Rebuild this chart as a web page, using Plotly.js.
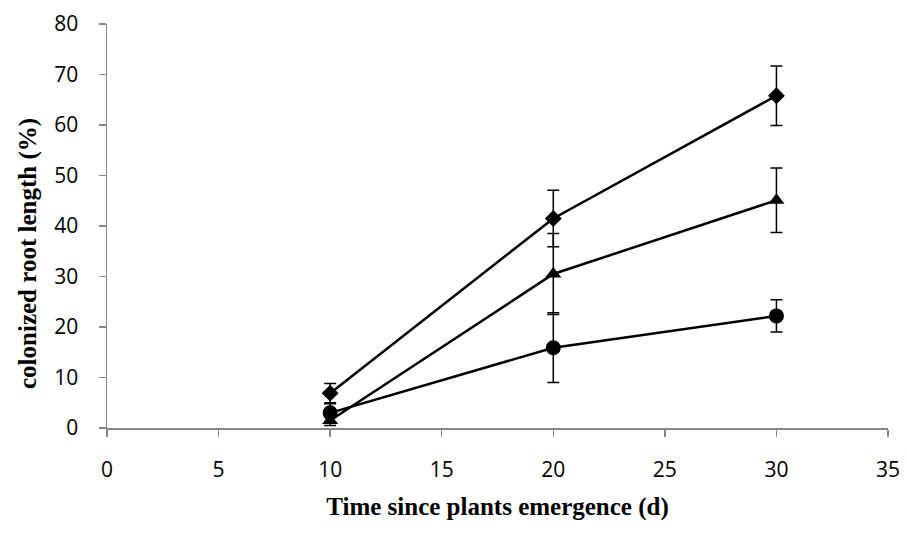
<!DOCTYPE html>
<html>
<head>
<meta charset="utf-8">
<script src="https://cdn.plot.ly/plotly-3.0.1.min.js"></script>
<style>html,body{margin:0;padding:0;background:#fff;}#chart{width:907px;height:542px;}</style>
</head>
<body>
<div id="chart"></div>
<script>
var days = [10, 20, 30];
var diamondVals = [6.9, 41.5, 65.8];
var diamondErr = [1.9, 5.6, 5.9];
var triangleVals = [1.5, 30.5, 45.1];
var triangleErr = [1.0, 8.0, 6.4];
var circleVals = [3.0, 15.9, 22.2];
var circleErr = [1.8, 6.9, 3.2];
var xTicks = [0, 5, 10, 15, 20, 25, 30, 35];
var yTicks = [0, 10, 20, 30, 40, 50, 60, 70, 80];
var yTitle = 'colonized root length (%)';
var xTitle = 'Time since plants emergence (d)';

function series(vals, err, sym, size) {
  return {
    x: days, y: vals, mode: 'lines+markers', type: 'scatter',
    line: {color: '#000', width: 2.5},
    marker: {symbol: sym, size: size, color: '#000'},
    error_y: {type: 'data', array: err, visible: true, color: '#000', thickness: 1.5, width: 6},
    showlegend: false, cliponaxis: false
  };
}

var data = [
  series(circleVals, circleErr, 'circle', 15),
  series(triangleVals, triangleErr, 'triangle-up', 14),
  series(diamondVals, diamondErr, 'diamond', 13)
];

var titleFont = {family: 'Liberation Serif, Times New Roman, serif', size: 25, color: '#000', weight: 'bold'};

var layout = {
  width: 907, height: 542,
  margin: {l: 107, r: 19, t: 24, b: 114},
  paper_bgcolor: '#fff', plot_bgcolor: '#fff',
  xaxis: {
    range: [0, 35], tickvals: xTicks, ticktext: xTicks.map(String),
    showgrid: false, zeroline: false, showline: true, linecolor: '#868686', linewidth: 1.5,
    ticks: 'outside', ticklen: 7, tickcolor: '#868686', tickwidth: 1.5,
    ticklabelstandoff: 15,
    tickfont: {family: 'Open Sans, Liberation Sans, sans-serif', size: 21, color: '#000'},
    title: {text: xTitle, standoff: 16, font: titleFont}
  },
  yaxis: {
    range: [0, 80], tickvals: yTicks, ticktext: yTicks.map(String),
    showgrid: false, zeroline: false, showline: true, linecolor: '#868686', linewidth: 1.5,
    ticks: 'outside', ticklen: 7, tickcolor: '#868686', tickwidth: 1.5,
    ticklabelstandoff: 16,
    tickfont: {family: 'Open Sans, Liberation Sans, sans-serif', size: 21, color: '#000'}
  },
  annotations: [{
    text: yTitle, xref: 'paper', yref: 'paper', x: -0.101, y: 0.431,
    xanchor: 'center', yanchor: 'middle', textangle: -90, showarrow: false, font: titleFont
  }]
};

Plotly.newPlot('chart', data, layout, {displayModeBar: false, staticPlot: true});
</script>
</body>
</html>
